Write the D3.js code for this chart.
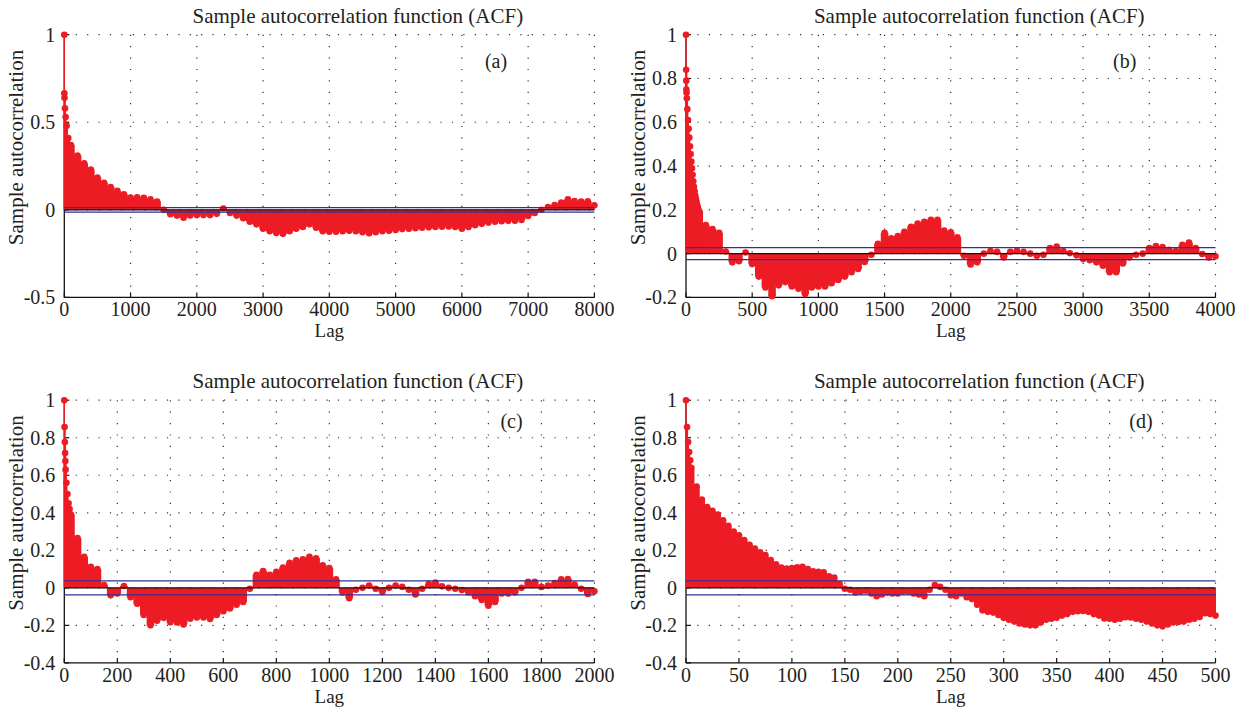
<!DOCTYPE html>
<html>
<head>
<script src="https://d3js.org/d3.v7.min.js"></script>
<style>
  body { margin: 0; background: #fff; }
  svg { display: block; background: #fff; }
  text { font-family: "Liberation Serif", "DejaVu Serif", serif; fill: #231f20; }
</style>
</head>
<body>
<svg id="fig" width="1246" height="708"></svg>
<script>
// ---- data ----
// first lags as [lag, acf], then the rest at a fixed lag step from "start"
var headA = [[0,1],[1,0.665],[3,0.64],[10,0.58],[20,0.53],[35,0.48],[60,0.41]];
var startA = 100, stepA = 100;
var acfA = [0.37,0.31,0.265,0.23,0.185,0.155,0.13,0.108,0.088,0.07,
  0.072,0.068,0.06,0.048,0.0,-0.025,-0.033,-0.045,-0.032,-0.03,
  -0.03,-0.03,-0.023,0.008,-0.018,-0.033,-0.048,-0.068,-0.083,-0.108,
  -0.122,-0.132,-0.137,-0.122,-0.108,-0.098,-0.083,-0.102,-0.122,-0.125,
  -0.125,-0.122,-0.12,-0.122,-0.128,-0.134,-0.128,-0.122,-0.12,-0.115,
  -0.11,-0.108,-0.105,-0.102,-0.1,-0.098,-0.096,-0.095,-0.098,-0.108,
  -0.098,-0.088,-0.08,-0.073,-0.068,-0.065,-0.063,-0.062,-0.058,-0.035,
  -0.018,0.0,0.016,0.028,0.042,0.06,0.05,0.048,0.049,0.026];
var boundA = 0.013;
var xTicksA = [0,1000,2000,3000,4000,5000,6000,7000,8000];
var yTicksA = [-0.5,0,0.5,1];

var headB = [[0,1],[1,0.84],[2,0.79],[3,0.75],[4,0.735],[6,0.71],[10,0.66],[15,0.61],[20,0.57],
  [25,0.53],[30,0.49],[35,0.455],[40,0.42],[45,0.39],[50,0.36],[55,0.33],[60,0.305],[65,0.285],
  [70,0.265],[75,0.25],[80,0.235],[85,0.22],[90,0.21]];
var startB = 100, stepB = 50;
var acfB = [0.195,0.13,0.112,0.095,0.01,-0.04,-0.035,0.005,-0.048,
  -0.105,-0.155,-0.195,-0.145,-0.13,-0.15,-0.16,-0.185,-0.155,-0.15,
  -0.15,-0.135,-0.12,-0.105,-0.085,-0.07,-0.038,-0.005,0.045,0.095,
  0.07,0.08,0.1,0.123,0.137,0.145,0.155,0.155,0.105,0.097,
  0.075,-0.01,-0.05,-0.04,0.0,0.012,0.008,-0.018,0.008,0.013,
  0.008,0.0,-0.01,-0.005,0.025,0.032,0.012,0.002,-0.008,-0.025,
  -0.03,-0.04,-0.055,-0.085,-0.085,-0.045,-0.018,-0.005,0.0,0.025,
  0.035,0.03,0.018,0.012,0.04,0.05,0.025,-0.002,-0.018,-0.012];
var boundB = 0.027;
var xTicksB = [0,500,1000,1500,2000,2500,3000,3500,4000];
var yTicksB = [-0.2,0,0.2,0.4,0.6,0.8,1];

var headC = [[0,1],[1,0.857],[2,0.777],[3,0.718],[4,0.676],[5,0.63],[8,0.56],[12,0.5],[16,0.45],[20,0.42]];
var startC = 25, stepC = 25;
var acfC = [0.39,0.265,0.165,0.112,0.1,0.015,-0.04,-0.03,0.01,-0.05,
  -0.085,-0.145,-0.2,-0.175,-0.16,-0.183,-0.185,-0.195,-0.165,-0.158,
  -0.158,-0.166,-0.145,-0.125,-0.11,-0.09,-0.075,-0.005,0.07,0.09,
  0.07,0.085,0.108,0.133,0.147,0.152,0.165,0.158,0.12,0.105,
  0.045,-0.025,-0.055,-0.01,0.0,0.012,-0.005,-0.022,0.0,0.012,
  0.005,-0.01,-0.035,-0.005,0.02,0.028,0.008,0.0,-0.005,-0.012,
  -0.025,-0.045,-0.065,-0.095,-0.075,-0.03,-0.03,-0.025,0.0,0.032,
  0.032,0.005,0.012,0.025,0.045,0.047,0.018,-0.005,-0.033,-0.018];
var boundC = 0.037;
var xTicksC = [0,200,400,600,800,1000,1200,1400,1600,1800,2000];
var yTicksC = [-0.4,-0.2,0,0.2,0.4,0.6,0.8,1];

var headD = [[0,1],[1,0.857],[2,0.777],[3,0.724],[4,0.68]];
var startD = 5, stepD = 5;
var acfD = [0.64,0.54,0.47,0.43,0.41,0.39,0.36,0.33,0.30,0.28,
  0.255,0.23,0.21,0.19,0.175,0.148,0.125,0.108,0.103,0.105,
  0.11,0.112,0.1,0.088,0.085,0.083,0.062,0.055,0.02,-0.005,
  -0.01,-0.025,-0.02,-0.015,-0.03,-0.045,-0.035,-0.025,-0.03,-0.03,
  -0.02,-0.02,-0.03,-0.035,-0.045,-0.01,0.015,0.005,-0.01,-0.04,
  -0.045,-0.03,-0.05,-0.06,-0.09,-0.12,-0.128,-0.132,-0.145,-0.16,
  -0.17,-0.18,-0.19,-0.195,-0.2,-0.2,-0.185,-0.17,-0.165,-0.16,
  -0.148,-0.14,-0.128,-0.125,-0.123,-0.128,-0.14,-0.148,-0.163,-0.165,
  -0.17,-0.165,-0.157,-0.158,-0.165,-0.17,-0.18,-0.19,-0.2,-0.205,
  -0.195,-0.185,-0.182,-0.18,-0.17,-0.165,-0.155,-0.135,-0.14,-0.148];
var boundD = 0.037;
var xTicksD = [0,50,100,150,200,250,300,350,400,450,500];
var yTicksD = yTicksC;

var titleText = "Sample autocorrelation function (ACF)";
var yLabelText = "Sample autocorrelation";
var xLabelText = "Lag";

// ---- layout ----
var RED = "#ed1c24", BLUE = "#2e3192";
var panels = [
  {tag:"(a)", head:headA, start:startA, step:stepA, acf:acfA, bound:boundA, xt:xTicksA, yt:yTicksA,
   left:64.3, right:594.4, top:34.7, bottom:297.4, tagX:496, tagY:68},
  {tag:"(b)", head:headB, start:startB, step:stepB, acf:acfB, bound:boundB, xt:xTicksB, yt:yTicksB,
   left:686, right:1215.5, top:34.7, bottom:297.4, tagX:1124.7, tagY:68},
  {tag:"(c)", head:headC, start:startC, step:stepC, acf:acfC, bound:boundC, xt:xTicksC, yt:yTicksC,
   left:64.3, right:594.4, top:400.2, bottom:662.9, tagX:511.5, tagY:428.4},
  {tag:"(d)", head:headD, start:startD, step:stepD, acf:acfD, bound:boundD, xt:xTicksD, yt:yTicksD,
   left:686, right:1215.5, top:400.2, bottom:662.9, tagX:1141, tagY:428.4}
];

var svg = d3.select("#fig");

panels.forEach(function(p){
  var xt = p.xt, yt = p.yt;
  var x = d3.scaleLinear().domain([xt[0], xt[xt.length-1]]).range([p.left, p.right]);
  var y = d3.scaleLinear().domain([yt[0], yt[yt.length-1]]).range([p.bottom, p.top]);
  var g = svg.append("g");

  var pts = p.head.concat(p.acf.map(function(v,i){ return [p.start + i*p.step, v]; }));

  // dotted grid
  g.selectAll(".vg").data(xt.slice(1)).enter().append("line")
    .attr("x1", d => x(d)).attr("x2", d => x(d))
    .attr("y1", p.top).attr("y2", p.bottom)
    .attr("stroke", "#333").attr("stroke-width", 1.2).attr("stroke-dasharray", "1.2,10.2");
  g.selectAll(".hg").data(yt.slice(1)).enter().append("line")
    .attr("x1", p.left).attr("x2", p.right)
    .attr("y1", d => y(d)).attr("y2", d => y(d))
    .attr("stroke", "#333").attr("stroke-width", 1.2).attr("stroke-dasharray", "1.2,10.2");

  // axes
  g.append("line").attr("x1", p.left).attr("x2", p.left).attr("y1", p.top).attr("y2", p.bottom)
    .attr("stroke", "#111").attr("stroke-width", 1.3);
  g.append("line").attr("x1", p.left).attr("x2", p.right).attr("y1", p.bottom).attr("y2", p.bottom)
    .attr("stroke", "#111").attr("stroke-width", 1.3);
  g.selectAll(".xtk").data(xt).enter().append("line")
    .attr("x1", d => x(d)).attr("x2", d => x(d)).attr("y1", p.bottom).attr("y2", p.bottom - 5)
    .attr("stroke", "#111").attr("stroke-width", 1.2);
  g.selectAll(".ytk").data(yt).enter().append("line")
    .attr("x1", p.left).attr("x2", p.left + 5).attr("y1", d => y(d)).attr("y2", d => y(d))
    .attr("stroke", "#111").attr("stroke-width", 1.2);

  // tick labels
  g.selectAll(".xl").data(xt).enter().append("text")
    .attr("x", d => x(d)).attr("y", p.bottom + 18.6)
    .attr("text-anchor", "middle").attr("font-size", 20).text(d => String(d));
  g.selectAll(".yl").data(yt).enter().append("text")
    .attr("x", p.left - 9).attr("y", d => y(d)).attr("dy", "0.35em")
    .attr("text-anchor", "end").attr("font-size", 20).text(d => String(d));

  // stems: lag 0 as a thin stem, the rest as filled bands
  var y0 = y(0);
  g.append("line").attr("x1", x(0)).attr("x2", x(0)).attr("y1", y0).attr("y2", y(pts[0][1]))
    .attr("stroke", RED).attr("stroke-width", 1.4);
  var n = pts.length;
  g.selectAll(".stem").data(pts.slice(1)).enter().append("rect")
    .attr("x", function(d,i){ return x((pts[i][0] + d[0]) / 2) - 0.5; })
    .attr("width", function(d,i){
      var hi = (i + 2 < n) ? (d[0] + pts[i+2][0]) / 2 : d[0];
      return Math.max(0.8, x(hi) - x((pts[i][0] + d[0]) / 2)) + 1;
    })
    .attr("y", d => Math.min(y(d[1]), y0))
    .attr("height", d => Math.abs(y(d[1]) - y0))
    .attr("fill", RED);
  g.selectAll(".mk").data(pts).enter().append("circle")
    .attr("cx", d => x(d[0])).attr("cy", d => y(d[1])).attr("r", 3.3)
    .attr("fill", RED);

  // confidence bounds and zero line
  [p.bound, -p.bound].forEach(function(b){
    g.append("line").attr("x1", x(xt[0])).attr("x2", x(xt[xt.length-1]))
      .attr("y1", y(b)).attr("y2", y(b))
      .attr("stroke", BLUE).attr("stroke-width", 1.2);
  });
  g.append("line").attr("x1", x(xt[0])).attr("x2", x(xt[xt.length-1]))
    .attr("y1", y0).attr("y2", y0).attr("stroke", "#111").attr("stroke-width", 1.3);

  // texts
  g.append("text").attr("x", (p.left + p.right) / 2 + 28.5).attr("y", p.top - 12)
    .attr("text-anchor", "middle").attr("font-size", 21).text(titleText);
  g.append("text").attr("x", (p.left + p.right) / 2).attr("y", p.bottom + 40)
    .attr("text-anchor", "middle").attr("font-size", 19).text(xLabelText);
  g.append("text")
    .attr("transform", "translate(" + (p.left - 41) + "," + (p.top + 112.8) + ") rotate(-90)")
    .attr("text-anchor", "middle").attr("font-size", 21).text(yLabelText);
  g.append("text").attr("x", p.tagX).attr("y", p.tagY)
    .attr("text-anchor", "middle").attr("font-size", 20).text(p.tag);
});
</script>
</body>
</html>
